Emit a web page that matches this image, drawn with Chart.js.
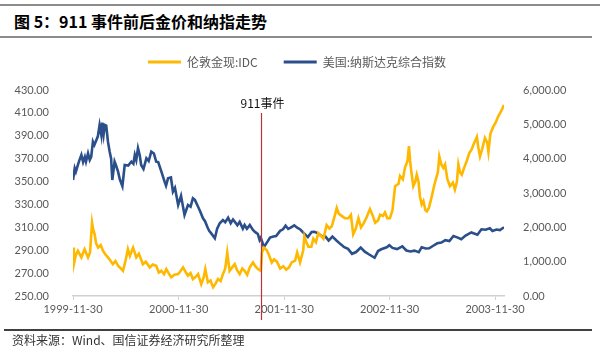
<!DOCTYPE html>
<html><head><meta charset="utf-8">
<script src="https://cdn.jsdelivr.net/npm/chart.js@4.4.0/dist/chart.umd.min.js"></script>
<style>
html,body{margin:0;padding:0;background:#fff;}
#wrap{position:relative;width:600px;height:359px;overflow:hidden;background:#fff;}
#c{position:absolute;left:0;top:0;}
.rule{position:absolute;}
#title{position:absolute;left:14px;top:10px;font:bold 16px "Noto Sans CJK SC";color:#000;white-space:nowrap;line-height:22px;}
#source{position:absolute;left:12px;top:332px;font:12px "Noto Sans CJK SC";color:#333;white-space:nowrap;line-height:16px;}
</style></head>
<body>
<div id="wrap">
<div class="rule" style="left:0;top:4px;width:600px;height:2px;background:#8c8c8c"></div>
<div id="title">图 5：911 事件前后金价和纳指走势</div>
<div class="rule" style="left:0;top:36px;width:592px;height:2px;background:#8c8c8c"></div>
<canvas id="c" width="600" height="359"></canvas>
<div class="rule" style="left:4px;top:329px;width:588px;height:2px;background:#404040"></div>
<div id="source">资料来源：Wind、国信证券经济研究所整理</div>
</div>
<script>
// ---- data ----
const seriesNames = ['伦敦金现:IDC', '美国:纳斯达克综合指数'];
const xTickDates = ['1999-11-30','2000-11-30','2001-11-30','2002-11-30','2003-11-30'];
const xEndDate = '2003-12-31';
const eventDate = '2001-09-11';
const eventLabel = '911事件';

const goldDates = ['1999-11-30','1999-12-03','1999-12-10','1999-12-17','1999-12-29','2000-01-09','2000-01-21','2000-01-28','2000-02-04','2000-02-08','2000-02-13','2000-02-18','2000-02-25','2000-03-05','2000-03-13','2000-03-22','2000-03-30','2000-04-07','2000-04-16','2000-04-25','2000-05-04','2000-05-12','2000-05-21','2000-05-30','2000-06-07','2000-06-14','2000-06-25','2000-07-06','2000-07-15','2000-07-29','2000-08-08','2000-08-22','2000-09-01','2000-09-13','2000-09-22','2000-10-01','2000-10-10','2000-10-18','2000-10-26','2000-11-04','2000-11-15','2000-11-28','2000-12-07','2000-12-15','2000-12-24','2001-01-01','2001-01-10','2001-01-18','2001-01-27','2001-02-05','2001-02-16','2001-02-24','2001-03-02','2001-03-11','2001-03-20','2001-03-29','2001-04-07','2001-04-15','2001-04-24','2001-05-02','2001-05-10','2001-05-17','2001-05-25','2001-06-03','2001-06-12','2001-06-20','2001-06-29','2001-07-08','2001-07-16','2001-07-25','2001-08-03','2001-08-14','2001-08-22','2001-08-31','2001-09-10','2001-09-14','2001-09-21','2001-10-01','2001-10-08','2001-10-18','2001-10-26','2001-11-05','2001-11-16','2001-11-27','2001-12-07','2001-12-17','2001-12-26','2002-01-07','2002-01-14','2002-01-24','2002-02-04','2002-02-08','2002-02-15','2002-02-22','2002-03-04','2002-03-11','2002-03-20','2002-03-28','2002-04-08','2002-04-15','2002-04-26','2002-05-06','2002-05-14','2002-05-24','2002-05-31','2002-06-07','2002-06-17','2002-06-28','2002-07-10','2002-07-19','2002-07-27','2002-08-05','2002-08-14','2002-08-23','2002-08-31','2002-09-10','2002-09-23','2002-10-03','2002-10-11','2002-10-21','2002-10-28','2002-11-07','2002-11-14','2002-11-22','2002-12-01','2002-12-10','2002-12-19','2002-12-31','2003-01-05','2003-01-15','2003-01-22','2003-01-31','2003-02-05','2003-02-09','2003-02-14','2003-02-20','2003-02-27','2003-03-04','2003-03-10','2003-03-15','2003-03-21','2003-03-27','2003-04-03','2003-04-08','2003-04-15','2003-04-25','2003-05-02','2003-05-09','2003-05-16','2003-05-21','2003-05-28','2003-06-04','2003-06-10','2003-06-18','2003-06-27','2003-07-07','2003-07-14','2003-07-21','2003-07-26','2003-08-01','2003-08-07','2003-08-15','2003-08-24','2003-09-02','2003-09-10','2003-09-19','2003-09-28','2003-10-03','2003-10-09','2003-10-16','2003-10-26','2003-11-03','2003-11-07','2003-11-14','2003-11-24','2003-12-03','2003-12-11','2003-12-18','2003-12-24','2003-12-31'];
const goldValues = [292.3,277.8,286.0,289.4,283.7,290.9,283.7,288.0,314.0,308.0,303.9,296.0,292.3,294.5,289.4,286.0,283.7,281.0,277.8,280.5,276.4,274.5,272.0,281.0,290.9,285.0,292.3,283.7,287.0,277.8,280.0,275.0,277.5,276.4,270.5,272.0,269.0,273.5,270.0,266.3,268.5,269.1,272.0,275.0,271.0,267.7,270.0,264.8,266.5,269.1,260.4,266.0,273.5,261.9,263.5,257.6,261.0,264.8,263.0,269.1,274.0,288.0,272.0,275.0,277.8,272.5,269.1,274.0,272.0,268.5,275.0,279.3,276.0,273.5,272.0,288.0,292.3,290.0,286.0,279.3,282.0,280.0,274.0,276.0,273.0,275.0,279.3,281.0,288.0,279.3,290.0,302.0,297.0,293.0,293.0,300.0,297.0,305.0,302.0,300.0,312.0,309.0,311.0,320.0,327.0,322.0,320.0,318.0,318.0,321.0,304.0,309.0,318.0,310.0,313.0,318.0,326.0,320.0,314.0,316.0,321.0,320.0,323.0,318.0,318.0,325.0,346.0,348.0,355.0,352.0,362.0,368.0,381.0,368.0,357.0,346.0,350.0,356.0,350.0,337.0,330.0,333.0,325.0,324.0,327.0,337.0,345.0,352.0,358.0,372.0,365.0,362.0,365.0,352.0,346.0,349.0,343.0,350.0,365.0,358.0,356.0,362.0,368.0,375.0,378.0,384.0,389.0,380.0,372.0,378.0,388.0,384.0,376.0,392.0,398.0,402.0,407.0,410.0,413.0,417.0];

const nasdaqDates = ['1999-11-30','1999-12-06','1999-12-10','1999-12-17','1999-12-22','1999-12-29','2000-01-04','2000-01-10','2000-01-14','2000-01-21','2000-01-27','2000-02-01','2000-02-07','2000-02-12','2000-02-19','2000-02-24','2000-03-01','2000-03-07','2000-03-10','2000-03-15','2000-03-19','2000-03-24','2000-03-30','2000-04-05','2000-04-10','2000-04-14','2000-04-22','2000-04-27','2000-05-04','2000-05-10','2000-05-19','2000-05-27','2000-06-08','2000-06-19','2000-06-26','2000-07-01','2000-07-06','2000-07-12','2000-07-18','2000-07-23','2000-07-31','2000-08-10','2000-08-18','2000-08-27','2000-09-05','2000-09-13','2000-09-20','2000-10-01','2000-10-12','2000-10-17','2000-10-24','2000-11-03','2000-11-10','2000-11-17','2000-11-28','2000-12-08','2000-12-20','2001-01-01','2001-01-10','2001-01-18','2001-01-25','2001-02-05','2001-02-12','2001-02-22','2001-03-01','2001-03-11','2001-03-16','2001-03-22','2001-04-04','2001-04-12','2001-04-21','2001-05-02','2001-05-10','2001-05-20','2001-05-29','2001-06-06','2001-06-12','2001-06-21','2001-06-29','2001-07-10','2001-07-16','2001-07-24','2001-08-03','2001-08-14','2001-08-22','2001-08-31','2001-09-06','2001-09-10','2001-09-21','2001-10-05','2001-10-12','2001-10-24','2001-11-02','2001-11-16','2001-11-26','2001-12-05','2001-12-14','2001-12-27','2002-01-04','2002-01-14','2002-01-25','2002-02-05','2002-02-20','2002-03-05','2002-03-15','2002-03-27','2002-04-09','2002-04-22','2002-05-03','2002-05-16','2002-05-30','2002-06-14','2002-06-26','2002-07-09','2002-07-23','2002-08-06','2002-08-22','2002-09-05','2002-09-19','2002-10-09','2002-10-21','2002-11-01','2002-11-20','2002-11-29','2002-12-10','2002-12-26','2003-01-13','2003-01-27','2003-02-10','2003-02-24','2003-03-11','2003-03-21','2003-04-04','2003-04-16','2003-04-30','2003-05-14','2003-05-28','2003-06-11','2003-06-25','2003-07-09','2003-07-22','2003-08-05','2003-08-20','2003-09-09','2003-09-30','2003-10-14','2003-10-28','2003-11-12','2003-11-21','2003-12-05','2003-12-17','2003-12-31'];
const nasdaqValues = [3379,3720,3620,3816,3950,4107,3901,4050,3912,4156,3962,4050,4495,4400,4544,4650,4981,4690,5048,4707,4981,4963,4495,4204,4000,3379,3912,3800,3621,3400,3200,3816,3800,3912,3850,4107,3960,4302,4100,3816,3700,4011,3930,4204,4150,3912,3900,3621,3330,3213,3428,3451,3038,3150,2651,2917,2360,2651,2600,2846,2800,2601,2470,2263,2180,1972,1890,1830,1681,1960,2118,2214,2150,2280,2120,2230,2164,2060,2160,1962,2068,1960,2066,1923,1860,1805,1631,1695,1427,1605,1703,1731,1746,1898,1941,2046,1953,2012,2059,1990,1937,1838,1716,1866,1868,1826,1742,1730,1613,1730,1615,1504,1423,1374,1229,1280,1409,1292,1216,1114,1309,1360,1419,1479,1400,1367,1446,1325,1296,1322,1278,1421,1383,1391,1464,1534,1556,1627,1602,1747,1707,1652,1761,1851,1786,1943,1931,1973,1893,1937,1921,2003];

// ---- build ----
const base = Date.UTC(1999,10,30);
const day = s => { const p = s.split('-').map(Number); return (Date.UTC(p[0],p[1]-1,p[2]) - base) / 864e5; };
const tickMap = {};
xTickDates.forEach(d => { tickMap[day(d)] = d; });

const GOLD = '#FFB800';
const BLUE = '#2B4F8A';
const AX = '#595959';
const tickFont = {family: 'Lato', size: 11};

const overlay = {
  id: 'overlay',
  afterDatasetsDraw(chart) {
    const ctx = chart.ctx;
    const xs = chart.scales.x;
    const px = Math.round(xs.getPixelForValue(day(eventDate))) + 0.5;
    ctx.save();
    ctx.strokeStyle = '#B8333A';
    ctx.lineWidth = 1.2;
    ctx.beginPath(); ctx.moveTo(px, 113); ctx.lineTo(px, 320); ctx.stroke();
    ctx.fillStyle = '#111';
    ctx.font = '12px "Noto Sans CJK SC"';
    ctx.textAlign = 'center'; ctx.textBaseline = 'middle';
    ctx.fillText(eventLabel, px + 1, 103);
    // legend
    ctx.font = '12px "Noto Sans CJK SC"';
    const lineLen = 33, gap = 6, itemGap = 26;
    const ds = chart.data.datasets;
    const widths = ds.map(d => lineLen + gap + ctx.measureText(d.label).width);
    const total = widths.reduce((a,b)=>a+b,0) + itemGap*(ds.length-1);
    let x = 297 - total/2;
    const y = 62;
    ds.forEach((d,i) => {
      ctx.strokeStyle = d.borderColor; ctx.lineWidth = 3;
      ctx.beginPath(); ctx.moveTo(x, y); ctx.lineTo(x+lineLen, y); ctx.stroke();
      ctx.fillStyle = AX; ctx.textAlign = 'left'; ctx.textBaseline = 'middle';
      ctx.fillText(d.label, x + lineLen + gap, y);
      x += widths[i] + itemGap;
    });
    ctx.restore();
  }
};

new Chart(document.getElementById('c'), {
  type: 'line',
  data: {
    datasets: [
      {label: seriesNames[0], data: goldValues.map((v,i)=>({x: day(goldDates[i]), y: v})), borderColor: GOLD, backgroundColor: GOLD, borderWidth: 2.6, pointRadius: 0, tension: 0, yAxisID: 'y'},
      {label: seriesNames[1], data: nasdaqValues.map((v,i)=>({x: day(nasdaqDates[i]), y: v})), borderColor: BLUE, backgroundColor: BLUE, borderWidth: 2.6, pointRadius: 0, tension: 0, yAxisID: 'y1'}
    ]
  },
  options: {
    responsive: false, animation: false, devicePixelRatio: 1,
    layout: {padding: {top: 90, bottom: 29, left: 0, right: 0}},
    plugins: {legend: {display: false}, tooltip: {enabled: false}, title: {display: false}},
    scales: {
      x: {
        type: 'linear', min: 0, max: day(xEndDate),
        afterBuildTicks: s => { s.ticks = xTickDates.map(d => ({value: day(d)})); },
        afterFit: s => { s.height = 34; },
        ticks: {autoSkip: false, maxRotation: 0, padding: 3, color: AX, font: tickFont, callback: v => tickMap[v] || ''},
        grid: {display: true, drawOnChartArea: false, drawTicks: true, tickLength: 4, color: '#d0d0d0'},
        border: {display: true, color: '#d0d0d0', width: 1.5}
      },
      y: {
        position: 'left', min: 250, max: 430,
        afterFit: s => { s.width = 73; },
        ticks: {stepSize: 20, padding: 16, color: AX, font: tickFont, callback: v => Number(v).toFixed(2)},
        grid: {display: false}, border: {display: false}
      },
      y1: {
        position: 'right', min: 0, max: 6000,
        afterFit: s => { s.width = 96; },
        ticks: {stepSize: 1000, padding: 11, color: AX, font: tickFont, callback: v => Number(v).toLocaleString('en-US', {minimumFractionDigits: 2, maximumFractionDigits: 2})},
        grid: {display: false}, border: {display: false}
      }
    }
  },
  plugins: [overlay]
});
</script>
</body></html>
